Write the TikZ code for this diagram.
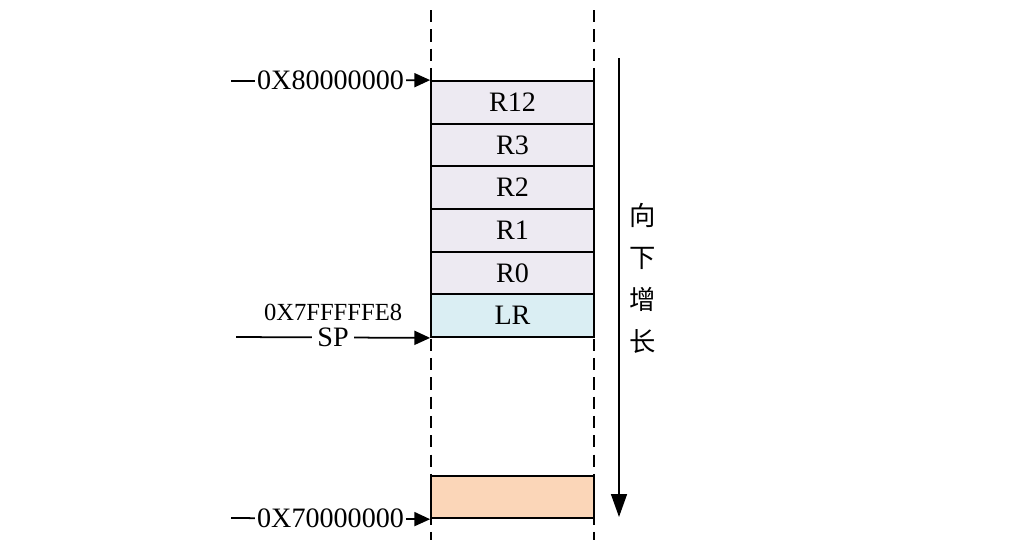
\documentclass[tikz,border=0pt]{standalone}
\usepackage{fontspec}
\setmainfont{Liberation Serif}
\newfontfamily\cjk{Noto Sans CJK SC}
\usetikzlibrary{arrows.meta}

\definecolor{cellgray}{HTML}{EDEAF2}
\definecolor{cellblue}{HTML}{DAEEF3}
\definecolor{cellorange}{HTML}{FBD6B8}

\tikzset{
    cell/.style={draw, line width=1pt, minimum width=3.26cm, minimum height=0.853cm,
        inner sep=0pt, font=\fontsize{16}{16}\selectfont},
    addr/.style={line width=1pt, -{Triangle[length=9pt,width=8pt]}},
    lbl/.style={fill=white, inner sep=1pt, font=\fontsize{16}{16}\selectfont},
    guide/.style={line width=0.8pt, dash pattern=on 7pt off 4pt}
}

\begin{document}
\begin{tikzpicture}[x=0.02cm, y=-0.02cm]
    \useasboundingbox (0,0) rectangle (1033,545);

    % stack cells
    \foreach \name/\txt [count=\i from 0] in {r12/R12, r3/R3, r2/R2, r1/R1, r0/R0}
        \node[cell, fill=cellgray] (\name) at (512.5, {102.3+42.67*\i}) {\txt};
    \node[cell, fill=cellblue] (lr) at (512.5, 315.7) {LR};
    \node[cell, fill=cellorange] (low) at (512.5, 497) {};

    % dashed borders of the stack area
    \coordinate (lt) at (431,10);
    \coordinate (rt) at (594,10);
    \coordinate (lb) at (431,540);
    \coordinate (rb) at (594,540);
    \draw[guide] (lt) -- (lb);
    \draw[guide] (rt) -- (rb);

    % address arrows
    \coordinate (a8) at (231,81);
    \coordinate (a7) at (231,518);
    \coordinate (asp) at (236,337);
    \draw[addr] (a8) -- node[lbl] (top) {0X80000000} (r12.north west);
    \draw[addr] (a7) -- node[lbl] (bot) {0X70000000} (low.south west);
    \draw[addr] (asp) -- node[lbl, inner xsep=3pt] (sp) {SP} (lr.south west);
    \node[font=\fontsize{14}{14}\selectfont, above=-1pt] (spval) at (sp.north) {0X7FFFFFE8};

    % growth direction
    \coordinate (gtop) at (619,58);
    \coordinate (gbot) at (619,517);
    \draw[line width=1pt, -{Triangle[length=13pt,width=9pt]}] (gtop) -- (gbot);
    \node[align=center, font=\cjk\fontsize{15}{23.9}\selectfont] (grow) at (643,278)
        {向\\下\\增\\长};
\end{tikzpicture}
\end{document}
